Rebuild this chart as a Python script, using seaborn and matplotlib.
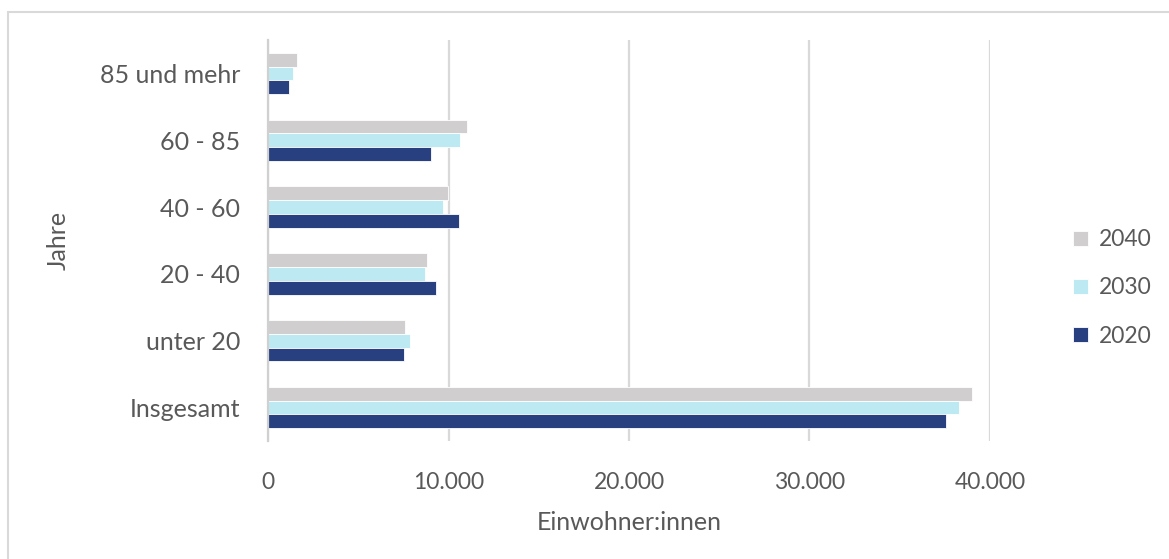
import matplotlib
matplotlib.use("Agg")
import matplotlib.pyplot as plt
import matplotlib.ticker as mticker
import seaborn as sns
import pandas as pd

categories = ["85 und mehr", "60 - 85", "40 - 60", "20 - 40", "unter 20", "Insgesamt"]
years = ["2040", "2030", "2020"]
values_2040 = [1600, 11000, 9980, 8800, 7600, 39000]
values_2030 = [1400, 10650, 9680, 8680, 7870, 38300]
values_2020 = [1150, 9050, 10600, 9300, 7530, 37580]
colors = {"2040": "#D0CECE", "2030": "#BDE9F2", "2020": "#283F80"}

rows = []
for yr, vals in zip(years, [values_2040, values_2030, values_2020]):
    for c, v in zip(categories, vals):
        rows.append({"Jahre": c, "Jahr": yr, "Wert": v})
df = pd.DataFrame(rows)

sns.set_theme(style="white")
plt.rcParams["font.family"] = ["Lato", "DejaVu Sans"]
txt = "#595959"

fig = plt.figure(figsize=(11.69, 5.59), dpi=100)
ax = fig.add_axes([268/1169, 1-441/559, (990-268)/1169, (441-40)/559])

sns.barplot(data=df, y="Jahre", x="Wert", hue="Jahr", order=categories,
            hue_order=years, palette=colors, orient="h", width=0.62,
            ax=ax, saturation=1, edgecolor="white", linewidth=0.6)

ax.set_xlim(0, 40000)
ax.set_xticks([0, 10000, 20000, 30000, 40000])
ax.xaxis.set_major_formatter(mticker.FuncFormatter(lambda v, p: f"{int(v):,}".replace(",", ".")))
ax.grid(axis="x", color="#D9D9D9", linewidth=1.6)
ax.set_axisbelow(True)
for s in ["top", "right", "bottom"]:
    ax.spines[s].set_visible(False)
ax.spines["left"].set_color("#D0D0D0")
ax.spines["left"].set_linewidth(1.6)
ax.spines["left"].set_zorder(5)
ax.tick_params(axis="both", length=0, labelcolor=txt)
ax.tick_params(axis="x", labelsize=16.5, pad=22)
ax.tick_params(axis="y", labelsize=18, pad=20)

ax.set_xlabel("Einwohner:innen", fontsize=18, color=txt)
ax.set_ylabel("Jahre", fontsize=18, color=txt)
ax.xaxis.set_label_coords(0.5, -0.175)
ax.yaxis.set_label_coords(-0.274, 0.5)

handles, labels = ax.get_legend_handles_labels()
ax.legend(handles, labels, loc="center left", bbox_to_anchor=(1052/1169, 1-288/559),
          bbox_transform=fig.transFigure, frameon=False, fontsize=16.5,
          labelcolor=txt, handlelength=0.65, handleheight=0.65,
          handletextpad=0.5, labelspacing=1.18)

# chart border (left/top)
fig.add_artist(plt.Line2D([8/1169, 8/1169], [0, 1-12/559], transform=fig.transFigure, color="#D9D9D9", linewidth=1.5))
fig.add_artist(plt.Line2D([8/1169, 1], [1-12/559, 1-12/559], transform=fig.transFigure, color="#D9D9D9", linewidth=1.5))

fig.savefig("out.png", dpi=100)
